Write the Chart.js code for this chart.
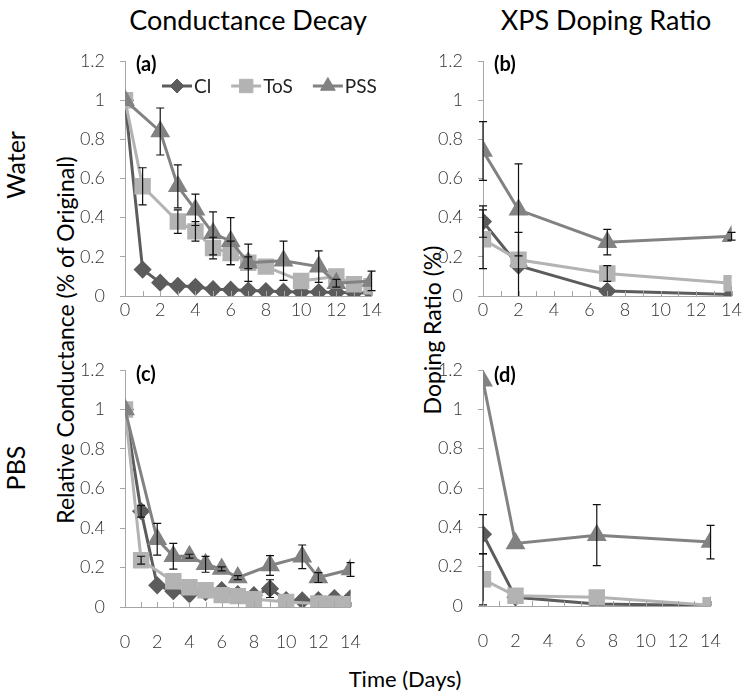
<!DOCTYPE html>
<html>
<head>
<meta charset="UTF-8">
<title>Conductance decay and XPS doping ratio</title>
<script src="https://cdn.jsdelivr.net/npm/chart.js/dist/chart.umd.min.js"></script>
<style>
  body { margin: 0; background: #fff; width: 754px; height: 699px; position: relative; overflow: hidden; font-family: Lato, "Open Sans", sans-serif; }
  canvas { position: absolute; }
  .txt { position: absolute; white-space: nowrap; color: #000; }
  .title { font-size: 27px; transform: translate(-50%, -50%); }
  .side { font-size: 25px; transform: translate(-50%, -50%) rotate(-90deg); }
  .ylab { font-size: 23px; transform: translate(-50%, -50%) rotate(-90deg); }
  .tag { font-size: 20px; font-weight: bold; transform: translateY(-50%); }
</style>
</head>
<body>
<div class="txt title" style="left:248px; top:19px;">Conductance Decay</div>
<div class="txt title" style="left:606px; top:19px;">XPS Doping Ratio</div>
<div class="txt side" style="left:15px; top:165px;">Water</div>
<div class="txt side" style="left:15px; top:468px;">PBS</div>
<div class="txt ylab" style="left:65px; top:340px;">Relative Conductance (% of Original)</div>
<div class="txt ylab" style="left:432px; top:330px;">Doping Ratio (%)</div>
<div class="txt title" style="left:405px; top:678px; font-size:22px;">Time (Days)</div>

<canvas id="chartA" width="325" height="285" style="left:60px; top:45px;"></canvas>
<canvas id="chartB" width="325" height="285" style="left:420px; top:45px;"></canvas>
<canvas id="chartC" width="325" height="300" style="left:60px; top:355px;"></canvas>
<canvas id="chartD" width="325" height="300" style="left:420px; top:355px;"></canvas>

<div class="txt tag" style="left:136px; top:63px;">(a)</div>
<div class="txt tag" style="left:494px; top:63px;">(b)</div>
<div class="txt tag" style="left:136px; top:373px;">(c)</div>
<div class="txt tag" style="left:494px; top:374px;">(d)</div>

<script>
// ---- data ----
const days = [0, 1, 2, 3, 4, 5, 6, 7, 8, 9, 10, 11, 12, 13, 14];
const xpsDays = [0, 2, 7, 14];
const yTicks = [0, 0.2, 0.4, 0.6, 0.8, 1, 1.2];

// (a) conductance in water
const waterCl     = [1.0, 0.135, 0.068, 0.052, 0.047, 0.035, 0.032, 0.028, 0.025, 0.022, 0.02, 0.02, 0.018, 0.016, 0.015];
const waterClErr  = [0, 0, 0, 0, 0, 0, 0, 0, 0, 0, 0, 0, 0, 0, 0];
const waterToS    = [1.0, 0.56, null, 0.38, 0.33, 0.245, 0.22, 0.17, 0.15, null, 0.077, null, 0.10, 0.06, 0.05];
const waterToSErr = [0, 0.095, null, 0.06, 0.05, 0.055, 0.06, 0.03, 0, null, 0, null, 0, 0, 0];
const waterPSS    = [1.0, null, 0.84, 0.56, 0.44, 0.32, 0.28, 0.17, null, 0.18, null, 0.15, 0.065, null, 0.077];
const waterPSSErr = [0, null, 0.12, 0.11, 0.08, 0.11, 0.12, 0.095, null, 0.10, null, 0.08, 0.02, null, 0.05];

// (b) XPS doping ratio in water
const xpsWaterCl     = [0.38, 0.155, 0.025, 0.008];
const xpsWaterClErr  = [0.08, 0.17, 0, 0];
const xpsWaterToS    = [0.29, 0.185, 0.115, 0.065];
const xpsWaterToSErr = [0.15, 0, 0.04, 0];
const xpsWaterPSS    = [0.74, 0.44, 0.275, 0.305];
const xpsWaterPSSErr = [0.15, 0.235, 0.065, 0.02];

// (c) conductance in PBS
const pbsCl     = [1.0, 0.485, 0.11, 0.08, 0.064, 0.075, 0.085, 0.065, 0.06, 0.093, 0.035, 0.033, 0.035, 0.045, 0.045];
const pbsClErr  = [0, 0.03, 0, 0, 0, 0, 0, 0, 0, 0.045, 0, 0, 0, 0, 0];
const pbsToS    = [1.0, 0.237, null, 0.13, 0.10, 0.085, 0.06, 0.055, 0.04, null, 0.025, null, 0.018, 0.016, 0.014];
const pbsToSErr = [0, 0.02, null, 0, 0, 0, 0, 0, 0, null, 0, null, 0, 0, 0];
const pbsPSS    = [1.0, null, 0.343, 0.257, 0.257, 0.216, 0.193, 0.149, null, 0.21, null, 0.254, 0.149, null, 0.19];
const pbsPSSErr = [0, null, 0.08, 0.065, 0.01, 0.04, 0.01, 0.01, null, 0.05, null, 0.06, 0.025, null, 0.035];

// (d) XPS doping ratio in PBS
const xpsPbsCl     = [0.365, 0.044, 0.01, 0.003];
const xpsPbsClErr  = [0.1, 0, 0, 0];
const xpsPbsToS    = [0.136, 0.052, 0.044, 0.004];
const xpsPbsToSErr = [0.13, 0, 0, 0];
const xpsPbsPSS    = [1.145, 0.318, 0.36, 0.325];
const xpsPbsPSSErr = [0, 0, 0.155, 0.085];

const seriesNames = ['Cl', 'ToS', 'PSS'];
const seriesColors = ['#5c5c5c', '#b3b3b3', '#828282'];
const seriesMarkers = ['rectRot', 'rect', 'triangle'];
const seriesRadius = [7, 9.5, 8.5];

const tickFont = { family: 'Lato', size: 18, weight: '300' };
const axisColor = '#a6a6a6';

// error bars drawn through the y scale
const errorBars = {
  id: 'errorBars',
  afterDatasetsDraw(chart) {
    const ctx = chart.ctx, xs = chart.scales.x, ys = chart.scales.y;
    ctx.save();
    ctx.strokeStyle = '#111';
    ctx.lineWidth = 1.2;
    chart.data.datasets.forEach(ds => {
      if (!ds.errors) return;
      ds.data.forEach((p, i) => {
        const e = ds.errors[i];
        if (p.y == null || !e) return;
        const px = xs.getPixelForValue(p.x);
        const top = ys.getPixelForValue(p.y + e);
        const bot = ys.getPixelForValue(Math.max(p.y - e, ys.min));
        ctx.beginPath();
        ctx.moveTo(px, top); ctx.lineTo(px, bot);
        ctx.moveTo(px - 4, top); ctx.lineTo(px + 4, top);
        if (p.y - e > ys.min) { ctx.moveTo(px - 4, bot); ctx.lineTo(px + 4, bot); }
        ctx.stroke();
      });
    });
    ctx.restore();
  }
};

// small tick marks pointing up from the x axis, one per day
const upTicks = {
  id: 'upTicks',
  afterDraw(chart) {
    const ctx = chart.ctx, xs = chart.scales.x, bottom = chart.chartArea.bottom;
    ctx.save();
    ctx.strokeStyle = axisColor;
    ctx.lineWidth = 1;
    xs.ticks.forEach(t => {
      const px = Math.round(xs.getPixelForValue(t.value)) + 0.5;
      ctx.beginPath(); ctx.moveTo(px, bottom); ctx.lineTo(px, bottom - 5); ctx.stroke();
    });
    ctx.restore();
  }
};

// legend with line + marker, like the spreadsheet one
const lineLegend = {
  id: 'lineLegend',
  afterDraw(chart, args, opts) {
    if (!opts.show) return;
    const ctx = chart.ctx, area = chart.chartArea;
    let x = area.left + opts.offsetX;
    const y = area.top + opts.offsetY;
    ctx.save();
    ctx.font = '19px Lato';
    ctx.textBaseline = 'middle';
    chart.data.datasets.forEach(ds => {
      ctx.strokeStyle = ds.borderColor;
      ctx.lineWidth = 3;
      ctx.beginPath(); ctx.moveTo(x, y); ctx.lineTo(x + 30, y); ctx.stroke();
      ctx.fillStyle = ds.borderColor;
      ctx.lineWidth = 1;
      Chart.helpers.drawPoint(ctx, { pointStyle: ds.pointStyle, radius: ds.pointRadius, rotation: 0, borderWidth: 1 }, x + 15, y);
      ctx.fillStyle = '#222';
      ctx.fillText(ds.label, x + 32, y + 1);
      x += 32 + ctx.measureText(ds.label).width + 20;
    });
    ctx.restore();
  }
};

function makeSet(i, xs, ys, errs) {
  return {
    label: seriesNames[i],
    data: xs.map((x, k) => ({ x: x, y: ys[k] })),
    errors: errs,
    borderColor: seriesColors[i],
    backgroundColor: seriesColors[i],
    pointBackgroundColor: seriesColors[i],
    pointBorderColor: seriesColors[i],
    pointStyle: seriesMarkers[i],
    pointRadius: seriesRadius[i],
    borderWidth: 3,
    spanGaps: true,
    order: 3 - i
  };
}

function makePanel(id, xs, series, box) {
  new Chart(document.getElementById(id), {
    type: 'line',
    data: { datasets: series.map((s, i) => makeSet(i, xs, s[0], s[1])) },
    plugins: [errorBars, upTicks, lineLegend],
    options: {
      responsive: false,
      animation: false,
      devicePixelRatio: 1,
      layout: { padding: { top: box.top, right: box.right, left: 0, bottom: 0 } },
      plugins: {
        legend: { display: false },
        tooltip: { enabled: false },
        lineLegend: { show: !!box.legend, offsetX: 37, offsetY: 25 }
      },
      scales: {
        x: {
          type: 'linear', min: 0, max: 14,
          afterFit: s => { s.height = box.xh; },
          ticks: {
            stepSize: 1, autoSkip: false, maxRotation: 0,
            padding: box.xpad, color: '#333', font: tickFont,
            callback: v => (v % 2 === 0 ? v : '')
          },
          grid: { drawOnChartArea: false, drawTicks: false },
          border: { color: axisColor }
        },
        y: {
          min: 0, max: 1.2,
          // fixed axis width; top/bottom spacing comes from layout padding only
          afterFit: s => { s.width = box.yw; s.paddingTop = 0; s.paddingBottom = 0; },
          afterBuildTicks: s => { s.ticks = yTicks.map(v => ({ value: v })); },
          ticks: {
            padding: 15, color: '#333', font: tickFont,
            callback: v => String(Number(v.toFixed(1)))
          },
          grid: { drawOnChartArea: false, tickLength: 5, color: axisColor },
          border: { color: axisColor }
        }
      }
    }
  });
}

makePanel('chartA', days,
  [[waterCl, waterClErr], [waterToS, waterToSErr], [waterPSS, waterPSSErr]],
  { top: 16, right: 11, yw: 65, xh: 34, xpad: 3, legend: true });
makePanel('chartB', xpsDays,
  [[xpsWaterCl, xpsWaterClErr], [xpsWaterToS, xpsWaterToSErr], [xpsWaterPSS, xpsWaterPSSErr]],
  { top: 16, right: 12, yw: 63, xh: 34, xpad: 3 });
makePanel('chartC', days,
  [[pbsCl, pbsClErr], [pbsToS, pbsToSErr], [pbsPSS, pbsPSSErr]],
  { top: 15, right: 11, yw: 65, xh: 48, xpad: 24 });
makePanel('chartD', xpsDays,
  [[xpsPbsCl, xpsPbsClErr], [xpsPbsToS, xpsPbsToSErr], [xpsPbsPSS, xpsPbsPSSErr]],
  { top: 15, right: 10, yw: 63, xh: 49, xpad: 24 });
</script>
</body>
</html>
